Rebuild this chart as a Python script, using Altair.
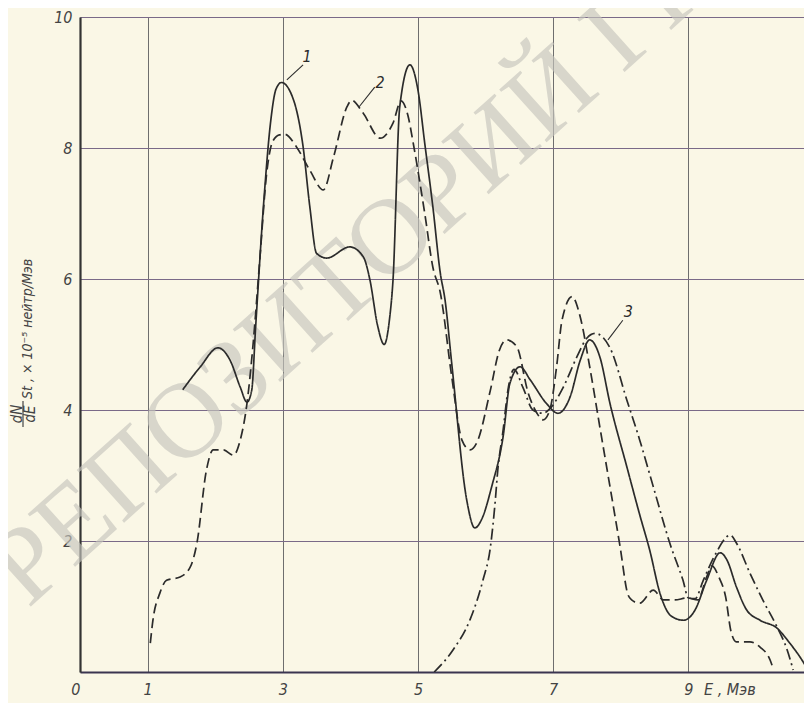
import altair as alt
import pandas as pd

# ---- data (E in MeV, dN/dE*St in 1e-5 neutr/MeV) ----
e1 = [1.52, 1.78, 2.04, 2.22, 2.37, 2.47, 2.54, 2.6, 2.72, 2.82, 2.9, 2.98, 3.16, 3.30, 3.40, 3.50,
      3.65, 3.99, 4.19, 4.29, 4.40, 4.50, 4.58, 4.63, 4.73, 4.88, 5.00, 5.10, 5.22, 5.33, 5.40, 5.50,
      5.72, 5.84, 5.95, 6.09, 6.26, 6.36, 6.51, 6.66, 6.90, 7.07, 7.25, 7.40, 7.54, 7.69, 7.84, 8.09,
      8.28, 8.43, 8.58, 8.75, 8.93, 9.10, 9.27, 9.47, 9.57, 9.71, 9.86, 10.06, 10.31, 10.50, 10.65, 10.77]
n1 = [4.31, 4.66, 4.95, 4.76, 4.35, 4.12, 4.30, 5.3, 7.2, 8.4, 8.9, 9.0, 8.73, 8.02, 7.10, 6.39,
      6.32, 6.49, 6.34, 5.98, 5.30, 5.00, 5.40, 5.98, 8.63, 9.27, 8.88, 8.07, 7.10, 6.09, 5.68, 4.70,
      2.63, 2.20, 2.35, 2.83, 3.60, 4.41, 4.66, 4.46, 4.10, 3.95, 4.20, 4.76, 5.07, 4.81, 4.10, 3.13,
      2.40, 1.85, 1.20, 0.85, 0.79, 0.95, 1.40, 1.82, 1.71, 1.30, 0.95, 0.79, 0.67, 0.44, 0.23, 0.03]

e2 = [1.04, 1.08, 1.18, 1.28, 1.48, 1.63, 1.73, 1.87, 1.97, 2.12, 2.27, 2.37, 2.47, 2.56, 2.66, 2.76,
      2.85, 2.95, 3.03, 3.20, 3.40, 3.60, 3.75, 3.95, 4.02, 4.19, 4.44, 4.63, 4.75, 4.85, 4.93, 5.10,
      5.22, 5.33, 5.50, 5.65, 5.77, 5.87, 6.07, 6.20, 6.31, 6.46, 6.63, 6.76, 6.85, 6.95, 7.05, 7.13,
      7.28, 7.40, 7.54, 7.69, 7.84, 7.99, 8.10, 8.16, 8.28, 8.48, 8.63, 8.80, 8.98, 9.14, 9.27, 9.35,
      9.45, 9.55, 9.63, 9.71, 9.91, 10.06, 10.21, 10.26]
n2 = [0.44, 0.80, 1.20, 1.40, 1.45, 1.60, 1.97, 3.08, 3.39, 3.39, 3.31, 3.54, 4.10, 5.00, 6.30, 7.60,
      8.10, 8.20, 8.21, 8.02, 7.66, 7.36, 7.86, 8.63, 8.73, 8.53, 8.15, 8.38, 8.72, 8.50, 8.07, 7.00,
      6.18, 5.79, 4.50, 3.54, 3.39, 3.50, 4.30, 4.90, 5.07, 4.97, 4.26, 3.95, 3.85, 4.00, 4.66, 5.37,
      5.73, 5.42, 4.66, 3.74, 2.83, 1.91, 1.20, 1.10, 1.05, 1.25, 1.10, 1.10, 1.13, 1.10, 1.45, 1.62,
      1.45, 1.15, 0.62, 0.46, 0.46, 0.38, 0.18, 0.03]

e3 = [5.24, 5.52, 5.77, 5.96, 6.07, 6.14, 6.18, 6.26, 6.33, 6.42, 6.55, 6.70, 6.85, 6.95, 7.15, 7.35,
      7.50, 7.62, 7.84, 8.09, 8.28, 8.48, 8.73, 8.92, 9.00, 9.10, 9.22, 9.40, 9.62, 9.71, 9.91, 10.10,
      10.31, 10.46, 10.55]
n3 = [0.00, 0.34, 0.80, 1.40, 1.90, 2.58, 3.08, 3.70, 4.30, 4.62, 4.35, 4.00, 3.95, 4.02, 4.35, 4.81,
      5.10, 5.17, 4.95, 4.15, 3.54, 2.83, 1.95, 1.40, 1.13, 1.12, 1.40, 1.80, 2.09, 1.97, 1.51, 1.10,
      0.69, 0.34, 0.03]

curve_ids = ["1", "2", "3"]
x_ticks = [0, 1, 3, 5, 7, 9]
y_ticks = [2, 4, 6, 8, 10]

# curve labels and their leader lines (data units)
lab_text = ["1", "2", "3"]
lab_x = [3.36, 4.44, 8.11]
lab_y = [9.39, 9.00, 5.50]
lead_x1 = [3.06, 4.13, 7.81]
lead_y1 = [9.04, 8.63, 5.07]
lead_x2 = [3.30, 4.36, 8.03]
lead_y2 = [9.27, 8.93, 5.37]

W, H = 724, 655
XMAX = 10.71
INK = "#2b2b2b"
TXT = "#444"
FONT = "DejaVu Sans Condensed, DejaVu Sans, sans-serif"

rows = []
for cid, xs, ys in zip(curve_ids, [e1, e2, e3], [n1, n2, n3]):
    for i, (a, b) in enumerate(zip(xs, ys)):
        rows.append({"curve": cid, "E": a, "N": b, "order": i})
df = pd.DataFrame(rows)

xscale = alt.Scale(domain=[0, XMAX], nice=False, zero=False)
yscale = alt.Scale(domain=[0, 10], nice=False)

base_axes = alt.Chart(pd.DataFrame({"E": [0, XMAX], "N": [0, 10]})).mark_point(opacity=0).encode(
    x=alt.X("E:Q", scale=xscale, axis=alt.Axis(
        values=x_ticks, format="d", title=None, grid=True, gridColor="#6e6e6e", gridWidth=1,
        domainColor="#3a3550", domainWidth=2.2, ticks=False, labelPadding=9,
        labelAlign={"condition": {"test": "datum.value === 0", "value": "right"}, "value": "center"},
        labelFont=FONT, labelFontStyle="italic", labelFontSize=16, labelColor=TXT,
        labelFlush=False)),
    y=alt.Y("N:Q", scale=yscale, axis=alt.Axis(
        values=y_ticks, format="d", title=None, grid=True, gridColor="#7a6a88", gridWidth=1,
        domainColor="#333", domainWidth=2.2, ticks=False, labelPadding=8,
        labelFont=FONT, labelFontStyle="italic", labelFontSize=16, labelColor=TXT)),
)

# watermark of the scanned page
watermark = alt.Chart(pd.DataFrame({"t": ["РЕПОЗИТОРИЙ ГГУ"]})).mark_text(
    font="Liberation Serif", fontSize=108, angle=318, align="left", baseline="alphabetic",
    color="#c6c5bd", opacity=0.65
).encode(text="t:N", x=alt.value(-52), y=alt.value(592))

dash = {"1": [1, 0], "2": [10, 5], "3": [11, 4, 2, 4]}
lines = alt.Chart(df).mark_line(interpolate="monotone", strokeWidth=1.7, color=INK, clip=True).encode(
    x=alt.X("E:Q", scale=xscale),
    y=alt.Y("N:Q", scale=yscale),
    order="order:Q",
    detail="curve:N",
    strokeDash=alt.StrokeDash("curve:N", scale=alt.Scale(domain=curve_ids, range=[dash[c] for c in curve_ids]), legend=None),
)

lab_df = pd.DataFrame({"t": lab_text, "x": lab_x, "y": lab_y,
                       "x1": lead_x1, "y1": lead_y1, "x2": lead_x2, "y2": lead_y2})
leaders = alt.Chart(lab_df).mark_rule(color=INK, strokeWidth=1.1).encode(
    x=alt.X("x1:Q", scale=xscale), y=alt.Y("y1:Q", scale=yscale), x2="x2:Q", y2="y2:Q")
labels = alt.Chart(lab_df).mark_text(font=FONT, fontStyle="italic", fontSize=16, color=INK).encode(
    x=alt.X("x:Q", scale=xscale), y=alt.Y("y:Q", scale=yscale), text="t:N")

# axis titles
xtitle = alt.Chart(pd.DataFrame({"t": ["E  , Мэв"]})).mark_text(
    font=FONT, fontStyle="italic", fontSize=16, color=TXT, align="left", baseline="top"
).encode(text="t:N", x=alt.value(624), y=alt.value(H + 10))

ytitle_df = pd.DataFrame({
    "t": ["dN", "dE", "St , × 10⁻⁵ нейтр/Мэв"],
    "px": [-63, -50, -52],
    "py": [397, 397, 382],
})
yt_frac = alt.Chart(ytitle_df.iloc[:2]).mark_text(
    font=FONT, fontStyle="italic", fontSize=15, color=TXT, angle=270, align="center", baseline="middle"
).encode(text="t:N", x=alt.X("px:Q", scale=None), y=alt.Y("py:Q", scale=None))
yt_main = alt.Chart(ytitle_df.iloc[2:]).mark_text(
    font=FONT, fontStyle="italic", fontSize=14, color=TXT, angle=270, align="left", baseline="middle"
).encode(text="t:N", x=alt.X("px:Q", scale=None), y=alt.Y("py:Q", scale=None))
frac_bar = alt.Chart(pd.DataFrame({"a": [0]})).mark_rule(color=TXT, strokeWidth=1.2).encode(
    x=alt.value(-57), x2=alt.value(-57), y=alt.value(384), y2=alt.value(410))

chart = alt.layer(
    watermark, base_axes, lines, leaders, labels, xtitle, yt_frac, yt_main, frac_bar
).properties(
    width=W, height=H,
    padding={"left": 72, "top": 9, "right": 0, "bottom": 31},
    autosize=alt.AutoSizeParams(type="none"),
    background="#faf7e6",
).configure_view(stroke=None)

chart.save("out.html", embed_options={"renderer": "svg", "actions": False})
